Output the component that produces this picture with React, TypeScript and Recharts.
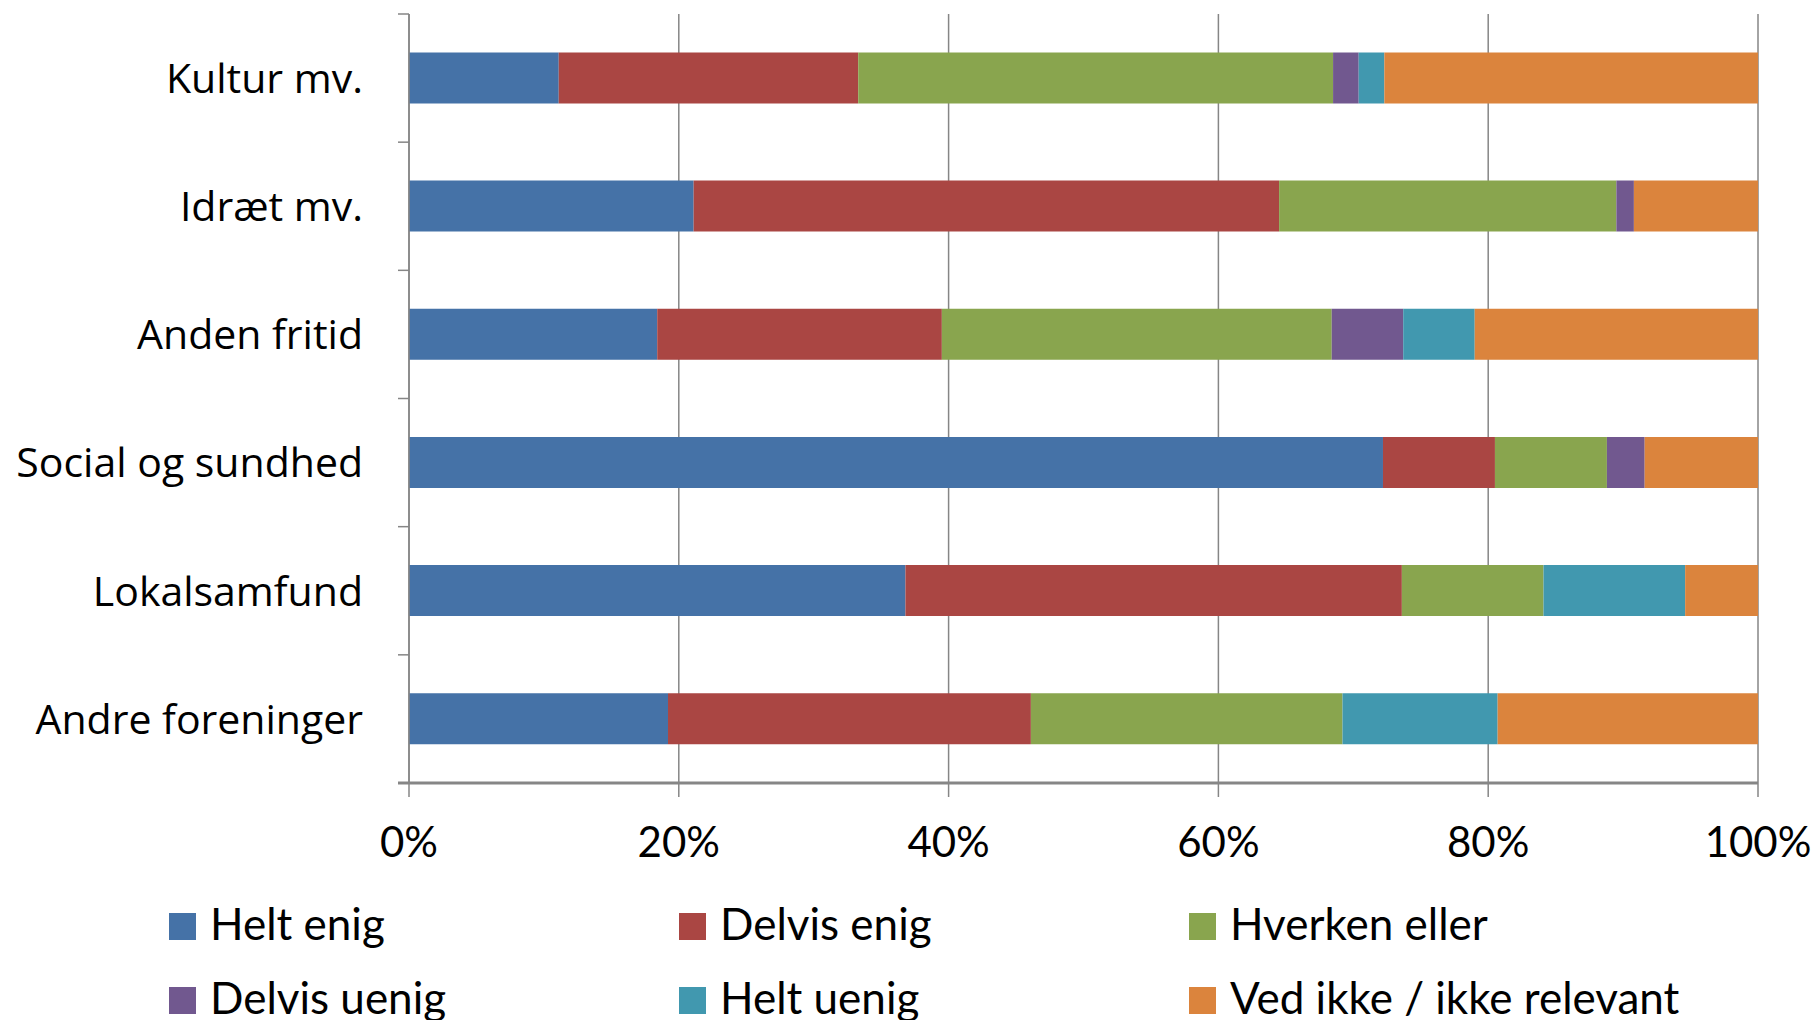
import React from 'react';
import { BarChart, Bar, XAxis, YAxis, CartesianGrid } from 'recharts';

const categories = ['Kultur mv.', 'Idræt mv.', 'Anden fritid', 'Social og sundhed', 'Lokalsamfund', 'Andre foreninger'];
const heltEnig = [11.1, 21.1, 18.4, 72.2, 36.8, 19.2];
const delvisEnig = [22.2, 43.4, 21.1, 8.3, 36.8, 26.9];
const hverkenEller = [35.2, 25.0, 28.9, 8.3, 10.5, 23.1];
const delvisUenig = [1.9, 1.3, 5.3, 2.8, 0, 0];
const heltUenig = [1.9, 0, 5.3, 0, 10.5, 11.5];
const vedIkke = [27.7, 9.2, 21.0, 8.4, 5.4, 19.3];
const xTicks = [0, 20, 40, 60, 80, 100];

const seriesKeys = ['heltEnig', 'delvisEnig', 'hverkenEller', 'delvisUenig', 'heltUenig', 'vedIkke'];
const seriesNames = ['Helt enig', 'Delvis enig', 'Hverken eller', 'Delvis uenig', 'Helt uenig', 'Ved ikke / ikke relevant'];
const seriesColors = ['#4572A7', '#AA4643', '#89A54E', '#71588F', '#4198AF', '#DB843D'];
const seriesValues = [heltEnig, delvisEnig, hverkenEller, delvisUenig, heltUenig, vedIkke];

const data = categories.map((name, i) => {
  const row: Record<string, any> = { name };
  seriesKeys.forEach((k, s) => {
    row[k] = seriesValues[s][i];
  });
  return row;
});

const GRAY = '#868686';
const TICK_MARGIN = 46;
const TICK_LEN = 11;

const YTick = (props: any) => {
  const { x, y, payload, index, visibleTicksCount } = props;
  const half = payload && typeof payload.offset === 'number' ? payload.offset : 64;
  const ax = x + TICK_MARGIN;
  const last = index === (visibleTicksCount ?? categories.length) - 1;
  return (
    <g>
      <line x1={ax - TICK_LEN} x2={ax} y1={y - half} y2={y - half} stroke={GRAY} strokeWidth={1.5} />
      {last ? <line x1={ax - TICK_LEN} x2={ax} y1={y + half} y2={y + half} stroke={GRAY} strokeWidth={3} /> : null}
      <text x={x} y={y} dy="0.36em" textAnchor="end" fill="#000" fontFamily="'Open Sans', sans-serif" fontSize={41}>
        {payload.value}
      </text>
    </g>
  );
};

const legendCols = [169, 679, 1189];
const legendRows = [913, 987];

export default function App() {
  return (
    <div style={{ position: 'absolute', left: 0, top: 0, width: 1818, height: 1020, background: '#fff', overflow: 'hidden' }}>
      <BarChart
        width={1818}
        height={1020}
        data={data}
        layout="vertical"
        barCategoryGap="30%"
        margin={{ top: 14, right: 60, left: 0, bottom: 147 }}
      >
        <CartesianGrid horizontal={false} stroke={GRAY} strokeWidth={1.5} />
        <XAxis
          type="number"
          domain={[0, 100]}
          ticks={xTicks}
          allowDataOverflow
          interval={0}
          height={90}
          tickFormatter={(v: number) => `${v}%`}
          axisLine={{ stroke: GRAY, strokeWidth: 3 }}
          tickLine={{ stroke: GRAY, strokeWidth: 1.5 }}
          tickSize={14}
          tickMargin={30}
          tick={{ fill: '#000', fontSize: 42, fontFamily: 'Lato, sans-serif' }}
        />
        <YAxis
          type="category"
          dataKey="name"
          width={409}
          interval={0}
          axisLine={{ stroke: GRAY, strokeWidth: 1.5 }}
          tickLine={false}
          tickSize={0}
          tickMargin={TICK_MARGIN}
          tick={<YTick />}
        />
        {seriesKeys.map((k, i) => (
          <Bar key={k} dataKey={k} name={seriesNames[i]} stackId="a" fill={seriesColors[i]} isAnimationActive={false} />
        ))}
      </BarChart>
      <svg width={1818} height={1020} style={{ position: 'absolute', left: 0, top: 0, pointerEvents: 'none' }}>
        {seriesNames.map((n, i) => {
          const cx = legendCols[i % 3];
          const cy = legendRows[Math.floor(i / 3)];
          return (
            <g key={n}>
              <rect x={cx} y={cy} width={27} height={27} fill={seriesColors[i]} />
              <text x={cx + 41} y={cy + 27} fontFamily="Lato, sans-serif" fontSize={44} fill="#000">
                {n}
              </text>
            </g>
          );
        })}
      </svg>
    </div>
  );
}
